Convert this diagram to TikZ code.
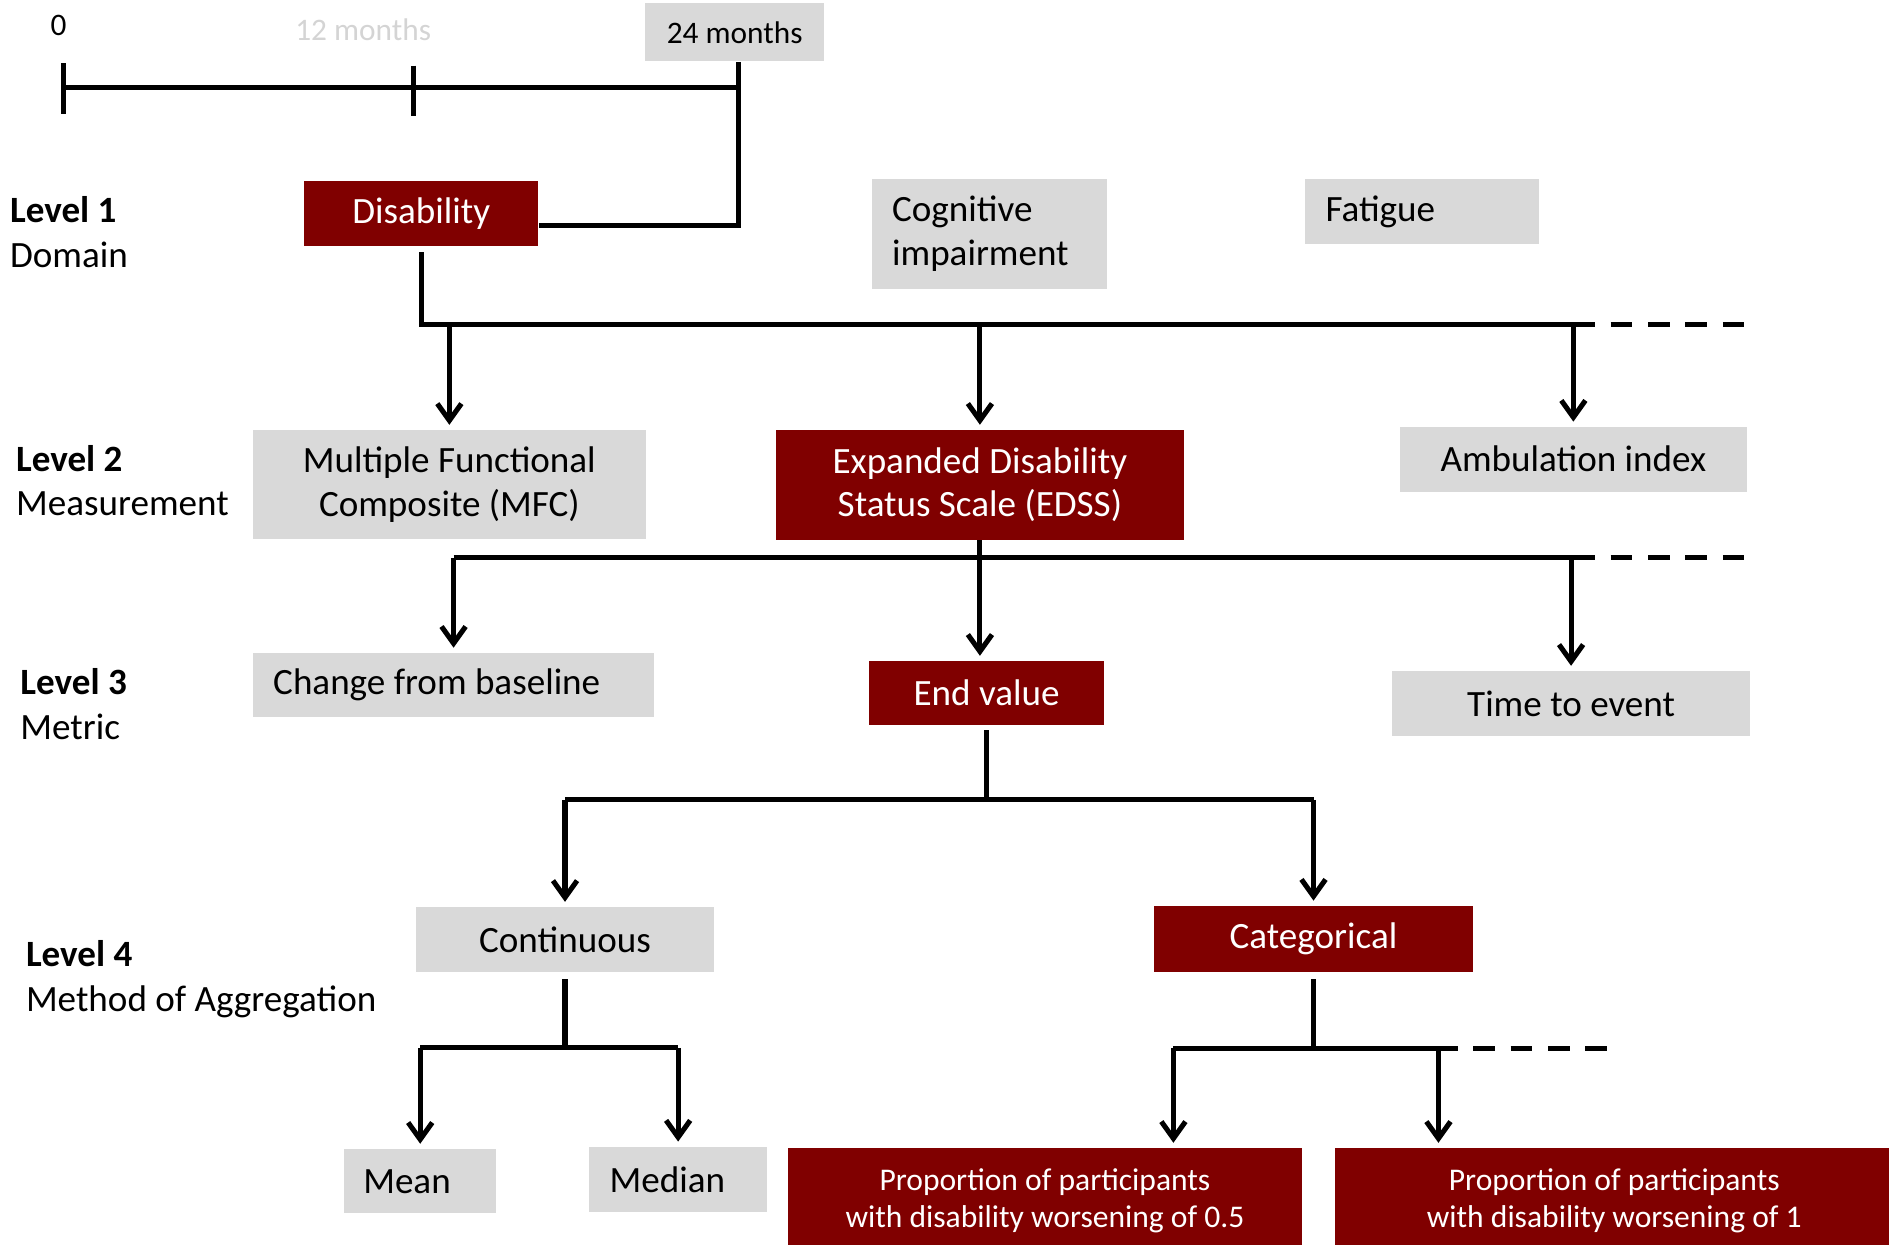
\documentclass[tikz,border=0pt]{standalone}
\usepackage{fontspec}
\setmainfont{Carlito}
\usetikzlibrary{arrows.meta}
\definecolor{boxgrey}{HTML}{D9D9D9}
\definecolor{boxred}{HTML}{800000}
\definecolor{faintgrey}{HTML}{D4D4D4}
\newcommand{\fsmain}{\fontsize{15.4}{18}\selectfont}
\newcommand{\fssmall}{\fontsize{13.1}{15.5}\selectfont}
\newcommand{\fstime}{\fontsize{13}{15}\selectfont}

\begin{document}
\begin{tikzpicture}[x=0.5pt,y=-0.5pt,
  >={Straight Barb[length=7pt,width=10pt]},
  conn/.style={black, line width=2.1pt},
  arr/.style={conn, ->, shorten >=2pt},
  tail/.style={conn, dash pattern=on 9pt off 6.5pt, dash phase=9pt},
  greybox/.style={fill=boxgrey, inner sep=0pt, align=center, font=\fsmain},
  redbox/.style={fill=boxred, text=white, inner sep=0pt, align=center, font=\fsmain},
  levellab/.style={anchor=west, inner sep=0pt, align=left, font=\fontsize{15.4}{18.5}\selectfont}]
\useasboundingbox (0,0) rectangle (1568,1033);
\clip (0,0) rectangle (1568,1033);
%
% time line
\node[font=\fstime] (lab0) at (48.6,21) {0};
\node[font=\fstime, text=faintgrey] (lab12) at (301.5,25) {12 months};
\node[greybox, font=\fstime, minimum width=74.25pt, minimum height=24.1pt] (m24) at (609.8,26.9) {24 months};
\coordinate (t0) at (53,72.5);
\coordinate (t12) at (343,72.5);
\coordinate (t24) at (613,72.5);
\draw[conn] (t0) -- (t24);
\draw[conn] ([yshift=10pt]t0) -- ([yshift=-11pt]t0);
\draw[conn] ([yshift=9pt]t12) -- ([yshift=-12pt]t12);
%
% level labels
\node[levellab] (lev1) at (8,192.5) {\textbf{Level 1}\\Domain};
\node[levellab] (lev2) at (13,398.9) {\textbf{Level 2}\\Measurement};
\node[levellab] (lev3) at (16.6,584.4) {\textbf{Level 3}\\Metric};
\node[levellab] (lev4) at (21.2,812.8) {\textbf{Level 4}\\Method of Aggregation};
%
% level 1
\node[redbox, minimum width=97.2pt, minimum height=26.9pt] (dis) at (349.7,177.1) {Disability};
\node[greybox, align=flush left, text width=80.7pt, inner xsep=8.4pt, minimum height=45.6pt] (cog) at (821.2,193.9) {Cognitive\\impairment};
\node[greybox, align=flush left, text width=80.2pt, inner xsep=8.5pt, minimum height=26.8pt] (fat) at (1180.5,175.5) {Fatigue};
\coordinate (dcorner) at (613,187);
\draw[conn] (t24 |- m24.south) -- (dcorner) -- (dcorner -| dis.east);
%
% level 2
\node[greybox, minimum width=163pt, minimum height=45.35pt] (mfc) at (373,402.4) {Multiple Functional\\Composite (MFC)};
\node[redbox, minimum width=169.4pt, minimum height=45.5pt] (edss) at (813.4,402.5) {Expanded Disability\\Status Scale (EDSS)};
\node[greybox, minimum width=144pt, minimum height=26.8pt] (amb) at (1306,381.2) {Ambulation index};
\coordinate (b1e) at (1324,269.5);
\coordinate (b1d) at (1448,269.5);
\draw[conn] ([yshift=-2.5pt]dis.south) |- (b1e);
\draw[tail] (b1e) -- (b1d);
\foreach \n in {mfc,edss,amb}
  \draw[arr] (\n.north |- b1e) -- (\n.north);
%
% level 3
\node[greybox, align=flush left, text width=149.7pt, inner xsep=8.4pt, minimum height=26.65pt] (chg) at (376.5,568.7) {Change from baseline};
\node[redbox, minimum width=97.5pt, minimum height=26.55pt] (endv) at (818.9,575.3) {End value};
\node[greybox, minimum width=148.6pt, minimum height=26.85pt] (tte) at (1304.1,583.9) {Time to event};
\coordinate (b2e) at (1324,463);
\coordinate (b2d) at (1448,463);
\draw[conn] (chg.north |- b2e) -- (b2e);
\draw[tail] (b2e) -- (b2d);
\draw[arr] (chg.north |- b2e) -- (chg.north);
\draw[arr] (tte.north |- b2e) -- (tte.north);
\draw[arr] (edss.south) -- (edss.south |- endv.north);
%
% level 4
\node[greybox, minimum width=124pt, minimum height=26.8pt] (cont) at (469,779.8) {Continuous};
\node[redbox, minimum width=132pt, minimum height=27.3pt] (cat) at (1090.3,779.3) {Categorical};
\coordinate (b3) at (0,664);
\draw[conn] ([yshift=-2pt]endv.south) -- (endv.south |- b3);
\draw[conn] (cont.north |- b3) -- (cat.north |- b3);
\draw[arr] (cont.north |- b3) -- (cont.north);
\draw[arr] (cat.north |- b3) -- (cat.north);
%
% aggregation
\node[greybox, align=flush left, text width=47.25pt, inner xsep=8pt, minimum height=26.7pt] (mean) at (348.8,980.5) {Mean};
\node[greybox, align=flush left, text width=56.85pt, inner xsep=8.65pt, minimum height=26.9pt] (med) at (562.9,978.9) {Median};
\node[redbox, font=\fssmall, minimum width=213.4pt, minimum height=44pt] (prop1) at (867.4,997) {Proportion of participants\\with disability worsening of 0.5};
\node[redbox, font=\fssmall, minimum width=232pt, minimum height=44pt] (prop2) at (1340,997) {Proportion of participants\\with disability worsening of 1};
\coordinate (b4) at (0,869.7);
\draw[conn] ([yshift=-3pt]cont.south) -- (cont.south |- b4);
\draw[conn] (mean.north |- b4) -- (med.north |- b4);
\draw[arr] (mean.north |- b4) -- (mean.north);
\draw[arr] (med.north |- b4) -- (med.north);
\coordinate (c4l) at (974,870.2);
\coordinate (c4r) at (1194,870.2);
\coordinate (c4e) at (1210,870.2);
\coordinate (c4d) at (1338,870.2);
\draw[conn] ([yshift=-3pt]cat.south) -- (cat.south |- c4e);
\draw[conn] (c4l) -- (c4e);
\draw[tail] (c4e) -- (c4d);
\draw[arr] (c4l) -- (c4l |- prop1.north);
\draw[arr] (c4r) -- (c4r |- prop2.north);
%
\end{tikzpicture}
\end{document}
